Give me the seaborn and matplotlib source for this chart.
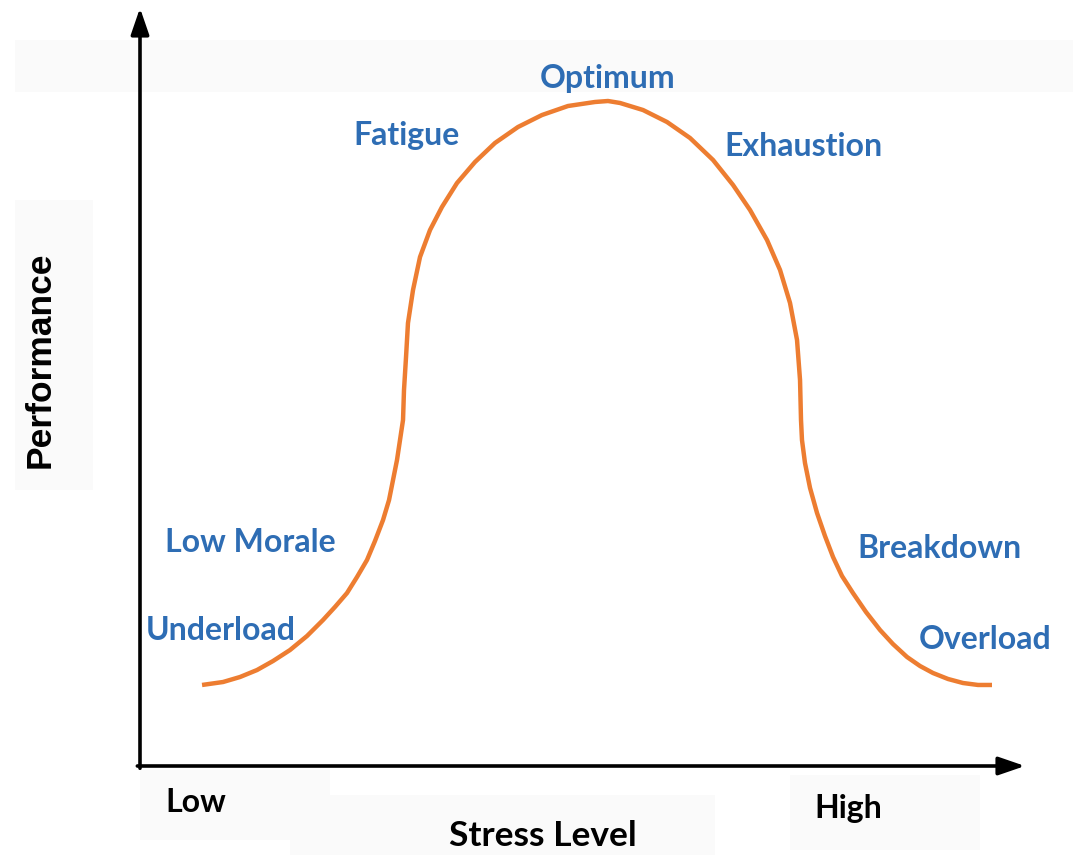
import matplotlib
matplotlib.use('Agg')
import matplotlib.pyplot as plt
import seaborn as sns
import pandas as pd
from matplotlib.patches import Rectangle

# ---- data ----
stress = [7.01, 9.38, 11.30, 13.22, 15.03, 16.95, 18.87, 20.68, 22.03, 23.39,
          24.52, 25.65, 26.55, 27.46, 28.14, 28.59, 29.04, 29.38, 29.72, 29.83,
          30.06, 30.28, 30.85, 31.64, 32.77, 34.12, 35.82, 37.85, 40.11, 42.71,
          45.42, 48.36, 51.41, 52.88, 54.24, 56.84, 59.55, 62.15, 64.75, 67.01,
          68.93, 70.85, 72.32, 73.45, 74.24, 74.58, 74.69, 74.80, 75.14, 75.71,
          76.50, 77.40, 78.31, 79.32, 80.56, 82.03, 83.62, 85.08, 86.67, 88.14,
          89.60, 91.30, 92.99, 94.69, 96.27]
performance = [10.69, 11.08, 11.74, 12.66, 13.85, 15.30, 17.15, 19.26, 20.98, 22.82,
               24.93, 27.18, 29.68, 32.45, 35.09, 37.73, 40.37, 43.01, 45.65, 49.60,
               53.96, 58.44, 62.80, 67.15, 70.71, 73.75, 76.91, 79.68, 82.19, 84.30,
               85.88, 87.07, 87.60, 87.73, 87.47, 86.54, 84.96, 82.85, 79.95, 76.65,
               73.35, 69.39, 65.44, 61.08, 56.20, 50.92, 45.65, 43.01, 39.97, 36.68,
               33.38, 30.34, 27.57, 25.07, 22.82, 20.32, 17.94, 16.09, 14.38, 13.19,
               12.27, 11.48, 10.95, 10.69, 10.69]
stage_names = ['Underload', 'Low Morale', 'Fatigue', 'Optimum',
               'Exhaustion', 'Breakdown', 'Overload']
x_tick_labels = ['Low', 'High']
x_title = 'Stress Level'
y_title = 'Performance'

# ---- layout (pixel positions of the reference) ----
W, H = 1073, 855
stage_pos = [(221, 630), (250, 543), (406, 136), (608, 78),
             (803, 147), (939, 548), (985, 639)]
tick_pos = [(196, 802), (848, 808)]

sns.set_theme(style='white')
plt.rcParams['font.family'] = ['Lato', 'DejaVu Sans']

fig = plt.figure(figsize=(W / 100, H / 100), dpi=100)
fig.patch.set_facecolor('white')


def fx(px):
    return px / W


def fy(py):
    return 1 - py / H


# faint grey boxes behind the texts
for (x0, y0, x1, y1) in [(15, 40, 1073, 92), (15, 200, 93, 490),
                         (140, 770, 330, 840), (290, 795, 715, 855),
                         (790, 775, 980, 850)]:
    fig.add_artist(Rectangle((fx(x0), fy(y1)), fx(x1) - fx(x0), fy(y0) - fy(y1),
                             transform=fig.transFigure, facecolor='#fafafa',
                             edgecolor='none', zorder=0))

ax = fig.add_axes([fx(140), fy(766), fx(1025) - fx(140), fy(8) - fy(766)])
ax.set_xlim(0, 100)
ax.set_ylim(0, 100)
ax.set_axis_off()

df = pd.DataFrame({'stress': stress, 'performance': performance})
sns.lineplot(data=df, x='stress', y='performance', sort=False, estimator=None,
             color='#ED7D31', linewidth=3.2, ax=ax,
             solid_joinstyle='round', solid_capstyle='butt')

# axes with arrows
arrow_kw = dict(arrowstyle='-|>,head_length=1.6,head_width=0.55', color='black',
                lw=2.6, shrinkA=0, shrinkB=0, mutation_scale=10)
ax.annotate('', xy=(0, 1), xytext=(0, -0.003), xycoords='axes fraction',
            arrowprops=arrow_kw, annotation_clip=False)
ax.annotate('', xy=(1, 0), xytext=(-0.003, 0), xycoords='axes fraction',
            arrowprops=arrow_kw, annotation_clip=False)

blue = '#2E6DB4'
for name, (px, py) in zip(stage_names, stage_pos):
    fig.text(fx(px), fy(py), name, ha='center', va='center', color=blue,
             fontsize=23, fontweight='bold')

for lab, (px, py) in zip(x_tick_labels, tick_pos):
    fig.text(fx(px), fy(py), lab, ha='center', va='center', color='black',
             fontsize=23, fontweight='bold')

fig.text(fx(543), fy(836), x_title, ha='center', va='center', color='black',
         fontsize=25.5, fontweight='bold')
fig.text(fx(40), fy(360), y_title, ha='center', va='center', color='black',
         fontsize=25.5, fontweight='bold', rotation=90,
         family=['Liberation Sans', 'DejaVu Sans'])

fig.savefig('out.png', dpi=100)
